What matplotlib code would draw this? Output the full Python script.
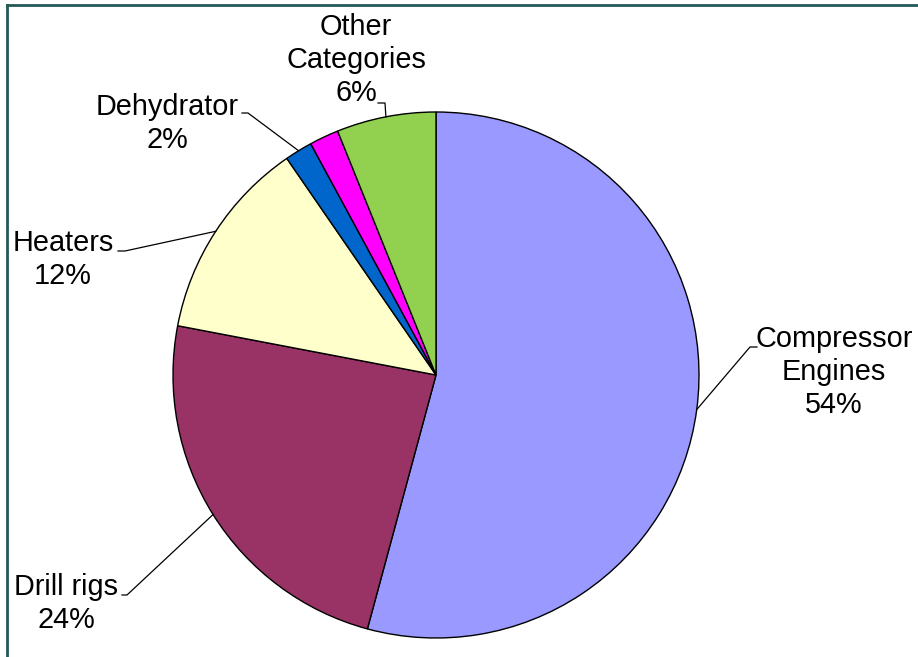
import numpy as np
import matplotlib
matplotlib.use("Agg")
import matplotlib.pyplot as plt
from matplotlib.lines import Line2D

# ---- data ----
categories = ["Compressor\nEngines", "Drill rigs", "Heaters", "Dehydrator", "", "Other\nCategories"]
values = [54.2, 23.8, 12.4, 1.7, 1.8, 6.1]
pct_labels = ["54%", "24%", "12%", "2%", "", "6%"]
colors = ["#9999FF", "#993366", "#FFFFCC", "#0066CC", "#FF00FF", "#92D050"]

W, H = 918, 657
fig = plt.figure(figsize=(W / 100, H / 100), dpi=100)
ax = fig.add_axes([0, 0, 1, 1])

cx, cy, R = 436, H - 375, 263
wedges, _ = ax.pie(values, colors=colors, startangle=90, counterclock=False,
                   center=(cx, cy), radius=R,
                   wedgeprops=dict(edgecolor="black", linewidth=1.0))
ax.set_xlim(0, W)
ax.set_ylim(0, H)
ax.set_aspect("equal")
ax.axis("off")

FONT = dict(family=["Liberation Sans", "DejaVu Sans"], fontsize=20.8, color="black")
LINE_STEP = 33  # px between baselines

# label layout: text centre x, first-line baseline y, leader hook points
layout = {
    0: dict(tx=834, ty=347, hook=[(757, 347), (750, 347)]),
    1: dict(tx=66, ty=595, hook=[(122, 595), (127, 595)]),
    2: dict(tx=63, ty=251, hook=[(118, 251), (125, 251)]),
    3: dict(tx=167, ty=115, hook=[(242, 113), (248, 113)]),
    5: dict(tx=356, ty=35, hook=[(378, 103), (385, 103)]),
}

for i, w in enumerate(wedges):
    if i not in layout:
        continue
    L = layout[i]
    mid = np.deg2rad((w.theta1 + w.theta2) / 2)
    ex, ey = cx + R * np.cos(mid), cy + R * np.sin(mid)
    pts = [(x, H - y) for x, y in L["hook"]] + [(ex, ey)]
    xs, ys = zip(*pts)
    ax.add_line(Line2D(xs, ys, color="black", lw=0.9))
    lines = categories[i].split("\n") + [pct_labels[i]]
    for k, s in enumerate(lines):
        ax.text(L["tx"], H - (L["ty"] + k * LINE_STEP), s,
                ha="center", va="baseline", **FONT)

# partial frame (top and left edges)
frame_col = "#245A56"
fig.add_artist(Line2D([7 / W, 1.0], [1 - 5 / H, 1 - 5 / H], color=frame_col, lw=2.0,
                      transform=fig.transFigure))
fig.add_artist(Line2D([7 / W, 7 / W], [0, 1 - 5 / H], color=frame_col, lw=2.0,
                      transform=fig.transFigure))

fig.savefig("out.png", dpi=100)
